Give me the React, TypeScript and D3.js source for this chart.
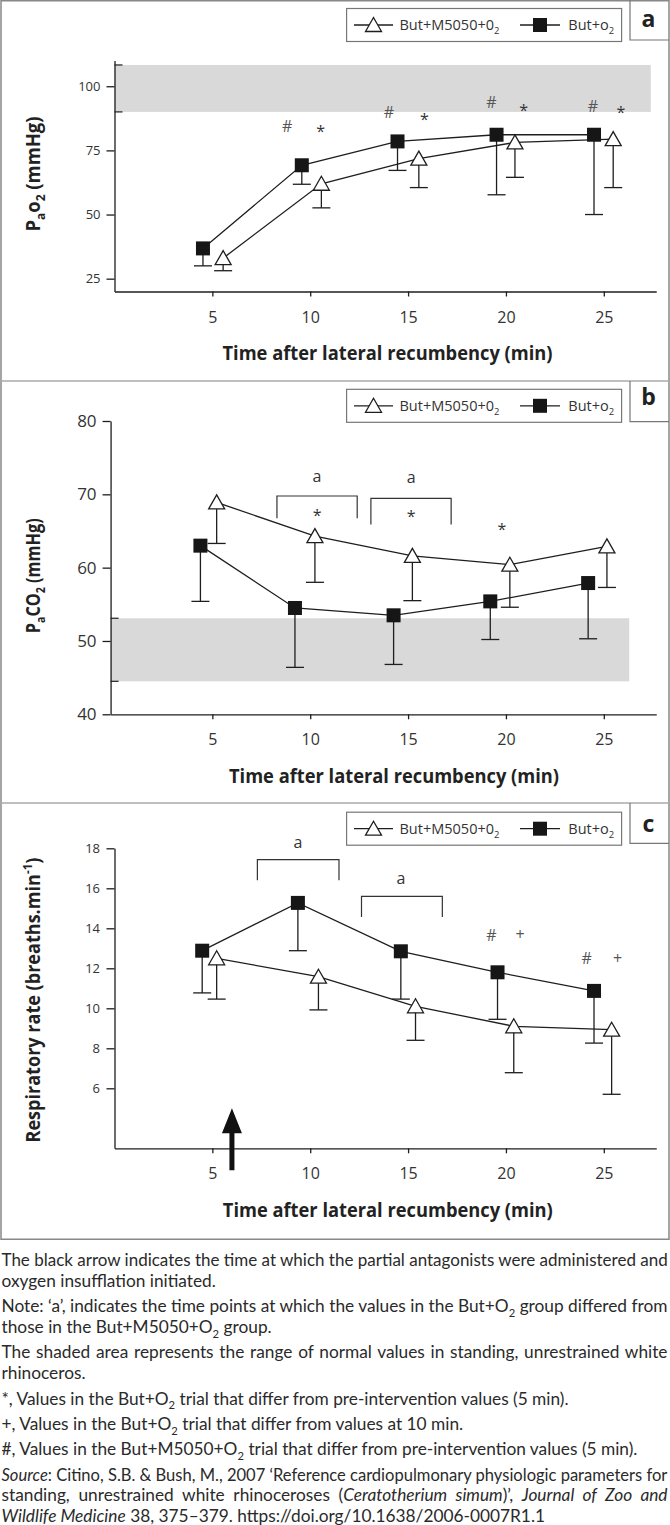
import React, { useEffect, useRef } from "react";
import * as d3 from "d3";

const W = 670;
const H = 1525;
const INK = "#1e1e1e";
const FONT = "'Open Sans', 'DejaVu Sans', sans-serif";
const CAPTION_FONT = "Lato, 'Open Sans', sans-serif";
const CAPTION_SIZE = 17.3;

// shared
const xTicks = [5, 10, 15, 20, 25];
const xTitle = "Time after lateral recumbency (min)";
const triangleName = "But+M5050+0";
const squareName = "But+o";

// panel a : PaO2
const aSquareX = [4.52, 9.57, 14.46, 19.52, 24.5];
const aSquareMean = [36.8, 69.2, 78.5, 81.1, 81.1];
const aSquareLow = [30.0, 61.8, 67.2, 57.7, 50.0];
const aTriangleX = [5.55, 10.57, 15.55, 20.46, 25.48];
const aTriangleMean = [33.0, 62.0, 71.8, 78.1, 79.4];
const aTriangleLow = [28.1, 52.6, 60.5, 64.5, 60.5];
const aYTicks = [25, 50, 75, 100];
const aNormal = [90, 108.3];
const aSymbols: [string, number, number][] = [
  ["#", 8.82, 84.5], ["*", 10.53, 83.7],
  ["#", 14.02, 89.7], ["*", 15.83, 88.4],
  ["#", 19.26, 93.9], ["*", 20.9, 92.0],
  ["#", 24.44, 92.3], ["*", 25.88, 91.1],
];

// panel b : PaCO2
const bSquareX = [4.39, 9.22, 14.26, 19.2, 24.2];
const bSquareMean = [63.0, 54.5, 53.5, 55.4, 57.9];
const bSquareLow = [55.4, 46.4, 46.8, 50.2, 50.3];
const bTriangleX = [5.22, 10.24, 15.22, 20.2, 25.16];
const bTriangleMean = [68.9, 64.3, 61.6, 60.4, 62.9];
const bTriangleLow = [63.3, 58.0, 55.5, 54.6, 57.3];
const bYTicks = [40, 50, 60, 70, 80];
const bNormal = [44.5, 53.1];
const bSymbols: [string, number, number][] = [
  ["a", 10.35, 72.3], ["a", 15.16, 72.1],
  ["*", 10.35, 67.6], ["*", 15.16, 67.4], ["*", 19.8, 65.7],
];
const bBrackets: [number, number, number, number][] = [
  [8.3, 12.4, 69.77, 66.73],
  [13.1, 17.2, 69.46, 65.9],
];

// panel c : respiratory rate
const cSquareX = [4.48, 9.37, 14.63, 19.57, 24.5];
const cSquareMean = [12.88, 15.27, 12.85, 11.8, 10.87];
const cSquareLow = [10.77, 12.88, 10.46, 9.45, 8.26];
const cTriangleX = [5.22, 10.42, 15.38, 20.4, 25.4];
const cTriangleMean = [12.5, 11.58, 10.1, 9.1, 8.93];
const cTriangleLow = [10.46, 9.92, 8.4, 6.78, 5.7];
const cYTicks = [6, 8, 10, 12, 14, 16, 18];
const cSymbols: [string, number, number][] = [
  ["a", 9.37, 18.25], ["a", 14.63, 16.45],
  ["#", 19.26, 13.67], ["+", 20.72, 13.7],
  ["#", 24.13, 12.48], ["+", 25.7, 12.48],
];
const cBrackets: [number, number, number, number][] = [
  [7.3, 11.47, 17.43, 16.4],
  [12.62, 16.75, 15.6, 14.56],
];
const cArrow = { x: 6.0, from: 1.9, to: 5.0 };

// caption
type Run = [string, string?];
const captionParas: Run[][][] = [
  [
    [["The black arrow indicates the time at which the partial antagonists were administered and"]],
    [["oxygen insufflation initiated."]],
  ],
  [
    [["Note: \u2018a\u2019, indicates the time points at which the values in the But+O"], ["2", "sub"], [" group differed from"]],
    [["those in the But+M5050+O"], ["2", "sub"], [" group."]],
  ],
  [
    [["The shaded area represents the range of normal values in standing, unrestrained white"]],
    [["rhinoceros."]],
  ],
  [[["*, Values in the But+O"], ["2", "sub"], [" trial that differ from pre-intervention values (5 min)."]]],
  [[["+, Values in the But+O"], ["2", "sub"], [" trial that differ from values at 10 min."]]],
  [[["#, Values in the But+M5050+O"], ["2", "sub"], [" trial that differ from pre-intervention values (5 min)."]]],
  [
    [["Source", "i"], [": Citino, S.B. & Bush, M., 2007 \u2018Reference cardiopulmonary physiologic parameters for"]],
    [["standing, unrestrained white rhinoceroses ("], ["Ceratotherium simum", "i"], [")\u2019, "], ["Journal of Zoo and", "i"]],
    [["Wildlife Medicine", "i"], [" 38, 375\u2013379. https://doi.org/10.1638/2006-0007R1.1"]],
  ],
];

function addRuns(t: any, runs: Run[], size: number) {
  let shift = 0;
  runs.forEach(([s, mode]) => {
    const target = mode === "sub" ? size * 0.28 : mode === "sup" ? -size * 0.4 : 0;
    const ts = t.append("tspan").text(s).attr("dy", target - shift);
    if (mode === "sub" || mode === "sup") ts.attr("font-size", size * 0.65);
    if (mode === "i") ts.attr("font-style", "italic");
    shift = target;
  });
}

const xBase = d3.scaleLinear().domain([0, 25]).range([114.5, 603.8]);
const X_END = 27.68;

function drawPanel(svg: any, p: any) {
  const x = d3.scaleLinear().domain([p.xStart, X_END]).range([xBase(p.xStart), xBase(X_END)]);
  const y = d3.scaleLinear().domain(p.yDomain).range(p.yRange);
  const g = svg.append("g");
  const axisX = x(p.xStart);
  const axisY = y(p.yDomain[0]);

  // normal range band
  if (p.normal) {
    g.append("rect")
      .attr("x", axisX).attr("y", y(p.normal[1]))
      .attr("width", x(p.bandEnd) - axisX)
      .attr("height", y(p.normal[0]) - y(p.normal[1]))
      .attr("fill", "#d9d9d9");
    p.normal.forEach((v: number) =>
      g.append("line").attr("x1", axisX).attr("x2", axisX + 8)
        .attr("y1", y(v)).attr("y2", y(v)).attr("stroke", INK).attr("stroke-width", 1.2));
  }

  // axes
  const ya = g.append("g").attr("transform", `translate(${axisX},0)`)
    .call(d3.axisLeft(y).tickValues(p.yTicks).tickSize(8).tickPadding(p.yPad).tickSizeOuter(0));
  ya.selectAll("text").attr("font-family", FONT).attr("font-size", p.yTickSize).attr("fill", "#333");
  const xa = g.append("g").attr("transform", `translate(0,${axisY})`)
    .call(d3.axisBottom(x).tickValues(xTicks).tickFormat(d3.format("d")).tickSize(5).tickSizeOuter(0));
  xa.selectAll("text").attr("font-family", FONT).attr("font-size", 16).attr("fill", "#333")
    .attr("y", 31).attr("dy", 0);
  [ya, xa].forEach((a) => {
    a.selectAll("path,line").attr("stroke", INK).attr("stroke-width", 1.3);
  });

  // series lines
  const line = d3.line<number[]>().x((d) => x(d[0])).y((d) => y(d[1]));
  const series = [
    { xs: p.triX, m: p.triMean, lo: p.triLow, kind: "tri" },
    { xs: p.sqX, m: p.sqMean, lo: p.sqLow, kind: "sq" },
  ];
  series.forEach((s) => {
    g.append("path").datum(s.xs.map((v: number, i: number) => [v, s.m[i]]))
      .attr("d", line).attr("fill", "none").attr("stroke", INK).attr("stroke-width", 1.3);
  });
  // error bars
  series.forEach((s) => {
    s.xs.forEach((v: number, i: number) => {
      const cx = x(v);
      g.append("line").attr("x1", cx).attr("x2", cx).attr("y1", y(s.m[i])).attr("y2", y(s.lo[i]))
        .attr("stroke", INK).attr("stroke-width", 1.3);
      g.append("line").attr("x1", cx - 9).attr("x2", cx + 9).attr("y1", y(s.lo[i])).attr("y2", y(s.lo[i]))
        .attr("stroke", INK).attr("stroke-width", 1.3);
    });
  });
  // markers
  series.forEach((s) => {
    s.xs.forEach((v: number, i: number) => {
      const cx = x(v), cy = y(s.m[i]);
      if (s.kind === "sq") {
        g.append("rect").attr("x", cx - 7).attr("y", cy - 7).attr("width", 14).attr("height", 14)
          .attr("fill", "#161616");
      } else {
        g.append("path").attr("d", `M${cx},${cy - 7.5}L${cx + 8},${cy + 6.5}L${cx - 8},${cy + 6.5}Z`)
          .attr("fill", "#fff").attr("stroke", INK).attr("stroke-width", 1.3);
      }
    });
  });

  // significance symbols
  const dy: Record<string, string> = { "#": "0.36em", "*": "0.55em", a: "0.27em", "+": "0.34em" };
  p.symbols.forEach(([s, sx, sy]: [string, number, number]) => {
    g.append("text").attr("x", x(sx)).attr("y", y(sy)).attr("dy", dy[s])
      .attr("text-anchor", "middle").attr("font-family", FONT).attr("font-size", 16)
      .attr("fill", s === "#" || s === "+" ? "#555" : "#333").text(s);
  });
  (p.brackets || []).forEach(([x0, x1, top, bot]: number[]) => {
    g.append("path")
      .attr("d", `M${x(x0)},${y(bot)}V${y(top)}H${x(x1)}V${y(bot)}`)
      .attr("fill", "none").attr("stroke", "#333").attr("stroke-width", 1.2);
  });

  // arrow
  if (p.arrow) {
    const ax = x(p.arrow.x), t = y(p.arrow.to), b = y(p.arrow.from);
    g.append("path")
      .attr("d", `M${ax},${t}L${ax + 10},${t + 25}H${ax + 2.5}V${b}H${ax - 2.5}V${t + 25}H${ax - 10}Z`)
      .attr("fill", "#111");
  }

  // axis titles
  g.append("text").attr("x", p.xTitleX).attr("y", p.xTitleY).attr("text-anchor", "middle")
    .attr("font-family", FONT).attr("font-weight", 700).attr("font-size", 20).attr("fill", "#222")
    .attr("textLength", 330).attr("lengthAdjust", "spacingAndGlyphs").text(xTitle);
  const yt = g.append("text").attr("transform", `translate(40,${p.yTitleY}) rotate(-90)`)
    .attr("text-anchor", "middle").attr("font-family", FONT).attr("font-weight", 700)
    .attr("font-size", 19).attr("fill", "#222")
    .attr("textLength", p.yTitleLen).attr("lengthAdjust", "spacingAndGlyphs");
  addRuns(yt, p.yTitle, 19);

  // legend
  const ly = p.legendY;
  g.append("rect").attr("x", 346.6).attr("y", ly - 16.5).attr("width", 275).attr("height", 33)
    .attr("fill", "#fff").attr("stroke", "#777").attr("stroke-width", 1.2);
  g.append("line").attr("x1", 354).attr("x2", 393).attr("y1", ly).attr("y2", ly).attr("stroke", INK).attr("stroke-width", 1.3);
  g.append("path").attr("d", `M373.5,${ly - 7.5}L381.5,${ly + 6.5}L365.5,${ly + 6.5}Z`)
    .attr("fill", "#fff").attr("stroke", INK).attr("stroke-width", 1.3);
  g.append("line").attr("x1", 520).attr("x2", 560).attr("y1", ly).attr("y2", ly).attr("stroke", INK).attr("stroke-width", 1.3);
  g.append("rect").attr("x", 533).attr("y", ly - 7).attr("width", 14).attr("height", 14).attr("fill", "#161616");
  const lt1 = g.append("text").attr("x", 399.5).attr("y", ly + 5).attr("font-family", FONT)
    .attr("font-size", 14.5).attr("fill", "#333");
  addRuns(lt1, [[triangleName], ["2", "sub"]], 14.5);
  const lt2 = g.append("text").attr("x", 568.3).attr("y", ly + 5).attr("font-family", FONT)
    .attr("font-size", 14.5).attr("fill", "#333");
  addRuns(lt2, [[squareName], ["2", "sub"]], 14.5);

  // panel letter box
  g.append("path").attr("d", `M630,${p.top}V${p.labelBottom}H669`)
    .attr("fill", "none").attr("stroke", "#777").attr("stroke-width", 1.2);
  g.append("text").attr("x", 648.5).attr("y", p.labelY).attr("text-anchor", "middle")
    .attr("font-family", FONT).attr("font-weight", 700).attr("font-size", 23).attr("fill", "#222")
    .text(p.id);
}

export default function App() {
  const ref = useRef<SVGSVGElement>(null);

  useEffect(() => {
    const svg = d3.select(ref.current);
    svg.selectAll("*").remove();

    const panels = [
      {
        id: "a", top: 0, yDomain: [20, 110], yRange: [291.5, 60.6], xStart: 0,
        yTicks: aYTicks, yTickSize: 13, yPad: 6, normal: aNormal, bandEnd: 27.4,
        sqX: aSquareX, sqMean: aSquareMean, sqLow: aSquareLow,
        triX: aTriangleX, triMean: aTriangleMean, triLow: aTriangleLow,
        symbols: aSymbols, legendY: 25, labelBottom: 40, labelY: 27,
        xTitleX: 387.5, xTitleY: 360, yTitleY: 174, yTitleLen: 115,
        yTitle: [["P"], ["a", "sub"], ["o"], ["2", "sub"], [" (mmHg)"]] as Run[],
      },
      {
        id: "b", top: 381, yDomain: [40, 80], yRange: [714.3, 421], xStart: -0.2,
        yTicks: bYTicks, yTickSize: 17, yPad: 6, normal: bNormal, bandEnd: 26.3,
        sqX: bSquareX, sqMean: bSquareMean, sqLow: bSquareLow,
        triX: bTriangleX, triMean: bTriangleMean, triLow: bTriangleLow,
        symbols: bSymbols, brackets: bBrackets, legendY: 405.8, labelBottom: 421.7, labelY: 405,
        xTitleX: 394, xTitleY: 783, yTitleY: 575.7, yTitleLen: 115,
        yTitle: [["P"], ["a", "sub"], ["CO"], ["2", "sub"], [" (mmHg)"]] as Run[],
      },
      {
        id: "c", top: 803, yDomain: [3, 18], yRange: [1148.3, 848.3], xStart: 0,
        yTicks: cYTicks, yTickSize: 13, yPad: 6.5,
        sqX: cSquareX, sqMean: cSquareMean, sqLow: cSquareLow,
        triX: cTriangleX, triMean: cTriangleMean, triLow: cTriangleLow,
        symbols: cSymbols, brackets: cBrackets, arrow: cArrow,
        legendY: 828.7, labelBottom: 843.3, labelY: 831.7,
        xTitleX: 387.8, xTitleY: 1217.3, yTitleY: 1000, yTitleLen: 285,
        yTitle: [["Respiratory rate (breaths.min"], ["-1", "sup"], [")"]] as Run[],
      },
    ];

    // frame
    svg.append("rect").attr("x", 1).attr("y", 0.75).attr("width", 668).attr("height", 1238.5)
      .attr("fill", "none").attr("stroke", "#888").attr("stroke-width", 1.5);
    [381, 803].forEach((yy) =>
      svg.append("line").attr("x1", 1).attr("x2", 669).attr("y1", yy).attr("y2", yy)
        .attr("stroke", "#aaa").attr("stroke-width", 1.5));

    panels.forEach((p) => drawPanel(svg, p));

    // caption: justified lines get wider word gaps, or a horizontal squeeze if too long
    const target = 666;
    let li = 0;
    captionParas.forEach((para, pi) => {
      para.forEach((runs, k) => {
        const baseY = 1266 + li * 20.9 + pi * 4.4;
        const t = svg.append("text").attr("transform", `translate(1.5,${baseY})`)
          .attr("font-family", CAPTION_FONT).attr("font-size", CAPTION_SIZE).attr("fill", "#2a2a2a");
        addRuns(t, runs, CAPTION_SIZE);
        if (k < para.length - 1) {
          const node = t.node() as SVGTextElement;
          const natural = node.getComputedTextLength();
          if (natural >= target) {
            t.attr("transform", `translate(1.5,${baseY}) scale(${target / natural},1)`);
          } else {
            const spaces = runs.map((r) => r[0]).join("").split(" ").length - 1;
            t.attr("word-spacing", (target - natural) / spaces);
          }
        }
        li++;
      });
    });
  }, []);

  return (
    <svg ref={ref} width={W} height={H}
      style={{ position: "absolute", left: 0, top: 0, background: "#fff" }} />
  );
}
